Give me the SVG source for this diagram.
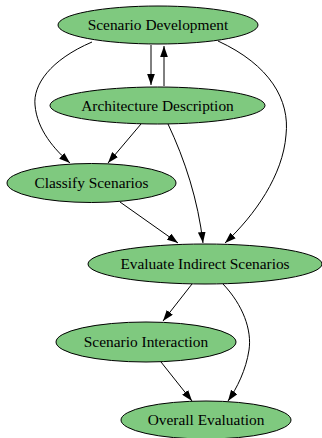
<svg xmlns="http://www.w3.org/2000/svg" width="322" height="438" viewBox="0 0 322 438">
<style>
.node ellipse{fill:#7fc97f;stroke:#000;stroke-width:1}
.node text{font-family:'Liberation Serif','DejaVu Serif',serif;font-size:15.4px;fill:#000;text-anchor:middle}
.edge{fill:none;stroke:#000;stroke-width:1;marker-end:url(#arr)}
</style>
<defs>
<marker id="arr" viewBox="0 0 10 7" refX="10" refY="3.5" markerWidth="11" markerHeight="8" markerUnits="userSpaceOnUse" orient="auto">
<path d="M0,0 L10,3.5 L0,7 z" fill="#000"/>
</marker>
</defs>
<rect width="322" height="438" fill="#fff"/>
<g id="connectors">
<path class="edge" d="M151,45 L151,85"/>
<path class="edge" d="M164,86 L164,46"/>
<path class="edge" d="M92,42 C50,60 33,85 35,105 C37,130 55,150 70,163"/>
<path class="edge" d="M141,124 L108,163"/>
<path class="edge" d="M168,124 C185,160 198,200 203,243"/>
<path class="edge" d="M218,41 C270,65 290,100 286,135 C283,175 255,215 225,243"/>
<path class="edge" d="M120,202 L178,243"/>
<path class="edge" d="M192,284 L163,321"/>
<path class="edge" d="M223,284 C243,305 252,330 249,350 C246,370 237,388 228,401"/>
<path class="edge" d="M161,362 L192,401"/>
</g>
<g id="scenario-development" class="node"><ellipse cx="158" cy="25" rx="100" ry="19"/><text x="158" y="30">Scenario Development</text></g>
<g id="architecture-description" class="node"><ellipse cx="157.5" cy="105.5" rx="107.5" ry="18.5"/><text x="157.5" y="110.5">Architecture Description</text></g>
<g id="classify-scenarios" class="node"><ellipse cx="91.5" cy="183" rx="84.5" ry="19.5"/><text x="91.5" y="188">Classify Scenarios</text></g>
<g id="evaluate-indirect-scenarios" class="node"><ellipse cx="205" cy="264" rx="117" ry="20"/><text x="205" y="269">Evaluate Indirect Scenarios</text></g>
<g id="scenario-interaction" class="node"><ellipse cx="146" cy="342" rx="90" ry="20"/><text x="146" y="347">Scenario Interaction</text></g>
<g id="overall-evaluation" class="node"><ellipse cx="206" cy="420" rx="85" ry="19"/><text x="206" y="425">Overall Evaluation</text></g>
</svg>
